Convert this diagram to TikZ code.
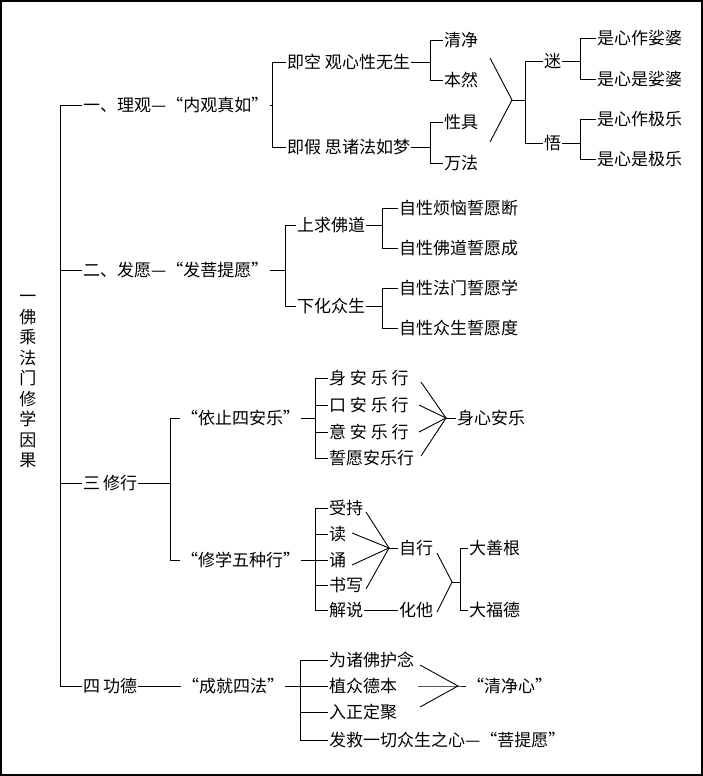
\documentclass[tikz,border=0pt]{standalone}
\usepackage{fontspec}
\setmainfont{Noto Sans CJK SC}
\usetikzlibrary{positioning}
\tikzset{
  lbl/.style={anchor=west,inner sep=1pt,font=\fontsize{17}{20}\selectfont},
  ln/.style={black,line width=0.9pt},
}
\begin{document}
\begin{tikzpicture}[x=1pt,y=-1pt]
\useasboundingbox (0,0) rectangle (703,776);
\draw[line width=1.2pt] (1,1) rectangle (702,775);

% title and main spine
\node[inner sep=0pt,font=\fontsize{17}{20.5}\selectfont,align=center] (root) at (28,382) {一\\佛\\乘\\法\\门\\修\\学\\因\\果};
\node[lbl] (a) at (82,105) {一、理观—“内观真如”};
\node[lbl] (b) at (82,270) {二、发愿—“发菩提愿”};
\node[lbl] (c) at (82,483) {三\,修行};
\node[lbl] (d) at (82,686) {四\,功德};
\draw[ln] (a.west) -- (60,105) -- (60,686) -- (d.west);
\draw[ln] (60,270) -- (b.west);
\draw[ln] (60,483) -- (c.west);

% one
\node[lbl] (a1) at (286,62) {即空\ 观心性无生};
\node[lbl] (a2) at (286,147) {即假\ 思诸法如梦};
\draw[ln] (a.east) -- (272,105);
\draw[ln] (a1.west) -| (272,147) -- (a2.west);
\node[lbl] (a11) at (443,40) {清净};
\node[lbl] (a12) at (443,80) {本然};
\node[lbl] (a21) at (443,122) {性具};
\node[lbl] (a22) at (443,163) {万法};
\draw[ln] (a1.east) -- (430,62);
\draw[ln] (a11.west) -| (430,80) -- (a12.west);
\draw[ln] (a2.east) -- (430,147);
\draw[ln] (a21.west) -| (430,163) -- (a22.west);
\coordinate (av) at (512,100);
\draw[ln] (490,58) -- (av) -- (490,142);
\node[lbl] (mi) at (543,61) {迷};
\node[lbl] (wu) at (543,143) {悟};
\draw[ln] (av) -- (525,100);
\draw[ln] (mi.west) -| (525,143) -- (wu.west);
\node[lbl] (m1) at (596,38) {是心作娑婆};
\node[lbl] (m2) at (596,79) {是心是娑婆};
\node[lbl] (w1) at (596,119) {是心作极乐};
\node[lbl] (w2) at (596,159) {是心是极乐};
\draw[ln] (mi.east) -- (580,61);
\draw[ln] (m1.west) -| (580,79) -- (m2.west);
\draw[ln] (wu.east) -- (580,143);
\draw[ln] (w1.west) -| (580,159) -- (w2.west);

% two
\node[lbl] (b1) at (296,225) {上求佛道};
\node[lbl] (b2) at (296,306) {下化众生};
\draw[ln] (b.east) -- (285,270);
\draw[ln] (b1.west) -| (285,306) -- (b2.west);
\node[lbl] (b11) at (398,208) {自性烦恼誓愿断};
\node[lbl] (b12) at (398,248) {自性佛道誓愿成};
\node[lbl] (b21) at (398,288) {自性法门誓愿学};
\node[lbl] (b22) at (398,328) {自性众生誓愿度};
\draw[ln] (b1.east) -- (382,225);
\draw[ln] (b11.west) -| (382,248) -- (b12.west);
\draw[ln] (b2.east) -- (382,306);
\draw[ln] (b21.west) -| (382,328) -- (b22.west);

% three
\node[lbl] (c1) at (180,418) {“依止四安乐”};
\node[lbl] (c2) at (180,560) {“修学五种行”};
\draw[ln] (c.east) -- (170,483);
\draw[ln] (c1.west) -| (170,560) -- (c2.west);
\node[lbl] (s1) at (328,378) {身\ 安\ 乐\ 行};
\node[lbl] (s2) at (328,405) {口\ 安\ 乐\ 行};
\node[lbl] (s3) at (328,432) {意\ 安\ 乐\ 行};
\node[lbl] (s4) at (328,458) {誓愿安乐行};
\draw[ln] (c1.east) -- (315,418);
\draw[ln] (s1.west) -| (315,458) -- (s4.west);
\draw[ln] (315,405) -- (s2.west);
\draw[ln] (315,432) -- (s3.west);
\node[lbl] (sx) at (456,418) {身心安乐};
\coordinate (sv) at (446,418);
\draw[ln] (421,382) -- (sv) -- (421,456);
\draw[ln] (419,405) -- (sv) -- (419,432);
\draw[ln] (sv) -- (sx.west);
\node[lbl] (r1) at (328,508) {受持};
\node[lbl] (r2) at (328,534) {读};
\node[lbl] (r3) at (328,560) {诵};
\node[lbl] (r4) at (328,585) {书写};
\node[lbl] (r5) at (328,610) {解说};
\draw[ln] (c2.east) -- (315,560);
\draw[ln] (r1.west) -| (315,610) -- (r5.west);
\draw[ln] (315,534) -- (r2.west);
\draw[ln] (315,560) -- (r3.west);
\draw[ln] (315,585) -- (r4.west);
\node[lbl] (zx) at (398,548) {自行};
\node[lbl] (hx) at (398,610) {化他};
\coordinate (zv) at (389,548);
\draw[ln] (366,512) -- (zv) -- (366,589);
\draw[ln] (352,533) -- (zv) -- (352,565);
\draw[ln] (zv) -- (zx.west);
\draw[ln] (r5.east) -- (hx.west);
\coordinate (dv) at (452,582);
\draw[ln] (437,553) -- (dv) -- (437,612);
\node[lbl] (g1) at (468,548) {大善根};
\node[lbl] (g2) at (468,610) {大福德};
\draw[ln] (dv) -- (460,582);
\draw[ln] (g1.west) -| (460,610) -- (g2.west);

% four
\node[lbl] (d0) at (181,686) {“成就四法”};
\draw[ln] (d.east) -- (d0.west);
\node[lbl] (f1) at (328,660) {为诸佛护念};
\node[lbl] (f2) at (328,686) {植众德本};
\node[lbl] (f3) at (328,712) {入正定聚};
\node[lbl] (f4) at (328,740) {发救一切众生之心—“菩提愿”};
\draw[ln] (d0.east) -- (300,686);
\draw[ln] (f1.west) -| (300,740) -- (f4.west);
\draw[ln] (300,686) -- (f2.west);
\draw[ln] (300,712) -- (f3.west);
\node[lbl] (qx) at (466,686) {“清净心”};
\coordinate (qv) at (458,686);
\draw[ln] (420,665) -- (qv) -- (420,707);
\draw[ln] (418,686) -- (qv) -- (qx.west);
\end{tikzpicture}
\end{document}
